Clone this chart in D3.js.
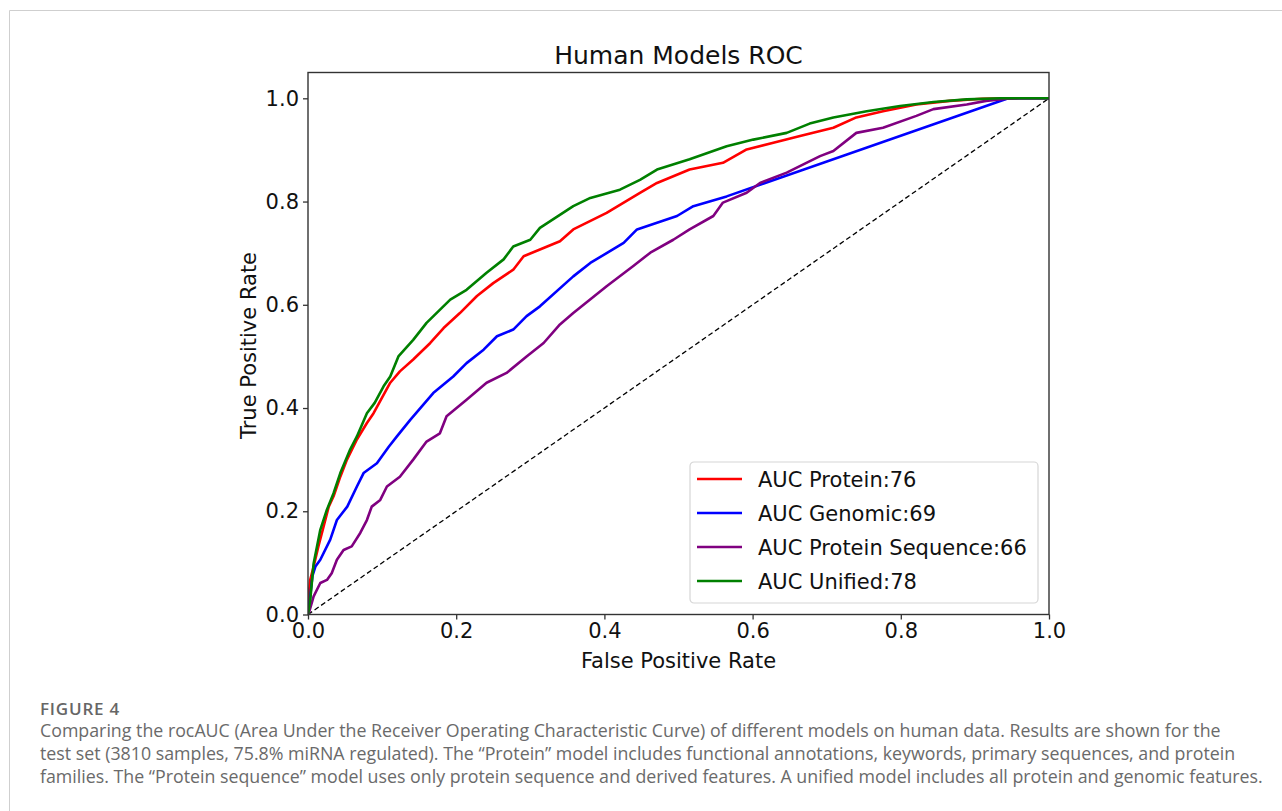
<!DOCTYPE html>
<html>
<head>
<meta charset="utf-8">
<script src="https://cdn.jsdelivr.net/npm/d3@7"></script>
<style>
  body { margin: 0; background: #fff; }
  svg { display: block; }
</style>
</head>
<body>
<script>
// ROC points: [fpr, tpr]
const proteinRoc = [[0,0],[0.001,0.04],[0.003,0.067],[0.0076,0.093],[0.014,0.132],[0.021,0.17],[0.028,0.209],[0.0345,0.229],[0.0436,0.267],[0.0526,0.3],[0.066,0.339],[0.0795,0.371],[0.0885,0.39],[0.111,0.449],[0.124,0.471],[0.142,0.494],[0.165,0.526],[0.183,0.555],[0.205,0.584],[0.228,0.617],[0.25,0.642],[0.277,0.668],[0.291,0.694],[0.313,0.707],[0.34,0.723],[0.358,0.746],[0.403,0.778],[0.448,0.817],[0.471,0.836],[0.515,0.862],[0.56,0.875],[0.592,0.901],[0.628,0.914],[0.664,0.927],[0.709,0.943],[0.74,0.963],[0.776,0.975],[0.821,0.988],[0.866,0.995],[0.91,0.999],[0.95,1],[1,1]];
const genomicRoc = [[0,0],[0.003,0.035],[0.006,0.075],[0.01,0.093],[0.0166,0.106],[0.03,0.145],[0.039,0.183],[0.053,0.209],[0.066,0.248],[0.075,0.274],[0.093,0.293],[0.109,0.325],[0.12,0.345],[0.138,0.377],[0.169,0.429],[0.196,0.461],[0.214,0.487],[0.237,0.513],[0.255,0.539],[0.277,0.552],[0.295,0.578],[0.313,0.597],[0.358,0.655],[0.381,0.681],[0.426,0.72],[0.444,0.746],[0.471,0.759],[0.498,0.772],[0.52,0.791],[0.565,0.81],[0.945,1],[1,1]];
const sequenceRoc = [[0,0],[0.001,0.002],[0.0076,0.035],[0.0166,0.061],[0.0256,0.067],[0.032,0.08],[0.039,0.106],[0.048,0.125],[0.059,0.132],[0.0705,0.158],[0.0795,0.183],[0.086,0.209],[0.0975,0.222],[0.1065,0.248],[0.124,0.267],[0.142,0.3],[0.16,0.335],[0.178,0.351],[0.187,0.384],[0.214,0.416],[0.241,0.449],[0.268,0.468],[0.295,0.5],[0.318,0.526],[0.34,0.562],[0.358,0.584],[0.403,0.636],[0.439,0.675],[0.462,0.701],[0.493,0.726],[0.515,0.746],[0.547,0.772],[0.56,0.798],[0.592,0.817],[0.61,0.836],[0.646,0.856],[0.691,0.888],[0.709,0.898],[0.74,0.933],[0.776,0.943],[0.821,0.966],[0.844,0.979],[0.889,0.988],[0.915,0.995],[0.943,0.999],[0.96,1],[1,1]];
const unifiedRoc = [[0,0],[0.003,0.028],[0.0076,0.099],[0.0166,0.164],[0.0255,0.203],[0.0345,0.235],[0.0436,0.274],[0.057,0.32],[0.066,0.345],[0.0795,0.39],[0.09,0.41],[0.102,0.442],[0.111,0.461],[0.122,0.5],[0.142,0.532],[0.16,0.565],[0.192,0.61],[0.214,0.629],[0.241,0.662],[0.264,0.688],[0.277,0.713],[0.3,0.726],[0.313,0.749],[0.358,0.791],[0.381,0.807],[0.421,0.823],[0.448,0.842],[0.471,0.862],[0.515,0.882],[0.565,0.907],[0.601,0.92],[0.646,0.933],[0.677,0.951],[0.709,0.963],[0.754,0.975],[0.799,0.985],[0.844,0.993],[0.889,0.998],[0.934,1],[1,1]];

const seriesNames = ["AUC Protein:76", "AUC Genomic:69", "AUC Protein Sequence:66", "AUC Unified:78"];
const seriesColors = ["#ff0000", "#0000ff", "#800080", "#008000"];
const seriesData = [proteinRoc, genomicRoc, sequenceRoc, unifiedRoc];
const xTicks = [0, 0.2, 0.4, 0.6, 0.8, 1.0];
const yTicks = [0, 0.2, 0.4, 0.6, 0.8, 1.0];

const captionHead = "FIGURE 4";
const captionLines = [
    "Comparing the rocAUC (Area Under the Receiver Operating Characteristic Curve) of different models on human data. Results are shown for the",
    "test set (3810 samples, 75.8% miRNA regulated). The \u201cProtein\u201d model includes functional annotations, keywords, primary sequences, and protein",
    "families. The \u201cProtein sequence\u201d model uses only protein sequence and derived features. A unified model includes all protein and genomic features."
];

const W = 1282, H = 811;
const plot = { left: 308, right: 1049, top: 72.5, bottom: 614.5 };

let svg = d3.select("body")
    .append("svg")
    .attr("width", W)
    .attr("height", H);

// card border
svg.append("path")
    .attr("d", `M9.5,${H} V10.5 H${W}`)
    .attr("fill", "none")
    .attr("stroke", "#cfcfcf")
    .attr("stroke-width", 1);

let x = d3.scaleLinear().domain([0, 1]).range([plot.left, plot.right]);
let y = d3.scaleLinear().domain([0, 1.05]).range([plot.bottom, plot.top]);

svg.append("defs").append("clipPath")
    .attr("id", "plotclip")
    .append("rect")
    .attr("x", plot.left)
    .attr("y", plot.top)
    .attr("width", plot.right - plot.left)
    .attr("height", plot.bottom - plot.top);

let lines = svg.append("g").attr("clip-path", "url(#plotclip)");

// chance diagonal
lines.append("line")
    .attr("x1", x(0)).attr("y1", y(0))
    .attr("x2", x(1)).attr("y2", y(1))
    .attr("stroke", "#000")
    .attr("stroke-width", 1.3)
    .attr("stroke-dasharray", "5,3");

let line = d3.line()
    .x(d => x(d[0]))
    .y(d => y(d[1]));

lines.selectAll("path.roc")
    .data(seriesData)
    .enter()
    .append("path")
    .attr("class", "roc")
    .attr("d", line)
    .attr("fill", "none")
    .attr("stroke", (d, i) => seriesColors[i])
    .attr("stroke-width", 2.6)
    .attr("stroke-linejoin", "round");

// axes
let fmt = d3.format(".1f");
let xAxis = svg.append("g")
    .attr("transform", `translate(0,${plot.bottom})`)
    .call(d3.axisBottom(x).tickValues(xTicks).tickFormat(fmt).tickSize(5).tickPadding(4));
let yAxis = svg.append("g")
    .attr("transform", `translate(${plot.left},0)`)
    .call(d3.axisLeft(y).tickValues(yTicks).tickFormat(fmt).tickSize(5).tickPadding(4));

[xAxis, yAxis].forEach(a => {
    a.select(".domain").remove();
    a.selectAll(".tick line").attr("stroke", "#333").attr("stroke-width", 1.3);
    a.selectAll(".tick text")
        .attr("fill", "#111")
        .style("font-family", "DejaVu Sans")
        .style("font-size", "21px");
});

// frame
svg.append("rect")
    .attr("x", plot.left)
    .attr("y", plot.top)
    .attr("width", plot.right - plot.left)
    .attr("height", plot.bottom - plot.top)
    .attr("fill", "none")
    .attr("stroke", "#333")
    .attr("stroke-width", 1.4);

// title and labels
svg.append("text")
    .attr("x", (plot.left + plot.right) / 2)
    .attr("y", 64)
    .attr("text-anchor", "middle")
    .attr("fill", "#111")
    .style("font-family", "DejaVu Sans")
    .style("font-size", "25px")
    .text("Human Models ROC");

svg.append("text")
    .attr("x", (plot.left + plot.right) / 2)
    .attr("y", 668)
    .attr("text-anchor", "middle")
    .attr("fill", "#111")
    .style("font-family", "DejaVu Sans")
    .style("font-size", "21px")
    .text("False Positive Rate");

svg.append("text")
    .attr("transform", `translate(256,${(plot.top + plot.bottom) / 2 + 2}) rotate(-90)`)
    .attr("text-anchor", "middle")
    .attr("fill", "#111")
    .style("font-family", "DejaVu Sans")
    .style("font-size", "21px")
    .text("True Positive Rate");

// legend
let legend = svg.append("g").attr("transform", "translate(690,462)");
legend.append("rect")
    .attr("width", 348)
    .attr("height", 141)
    .attr("rx", 4)
    .attr("fill", "#fff")
    .attr("fill-opacity", 0.85)
    .attr("stroke", "#d6d6d6")
    .attr("stroke-width", 1.2);

let items = legend.selectAll("g.item")
    .data(seriesNames)
    .enter()
    .append("g")
    .attr("class", "item")
    .attr("transform", (d, i) => `translate(0,${17 + i * 34})`);

items.append("line")
    .attr("x1", 7).attr("x2", 52)
    .attr("stroke", (d, i) => seriesColors[i])
    .attr("stroke-width", 2.6);

items.append("text")
    .attr("x", 68)
    .attr("dy", "0.36em")
    .attr("fill", "#111")
    .style("font-family", "DejaVu Sans")
    .style("font-size", "21px")
    .text(d => d);

// caption
svg.append("text")
    .attr("x", 40)
    .attr("y", 715)
    .attr("fill", "#666")
    .style("font-family", "Open Sans")
    .style("font-size", "17px")
    .style("font-weight", 600)
    .style("letter-spacing", "0.8px")
    .text(captionHead);

svg.selectAll("text.caption")
    .data(captionLines)
    .enter()
    .append("text")
    .attr("class", "caption")
    .attr("x", 40)
    .attr("y", (d, i) => 737 + i * 23)
    .attr("fill", "#6a6a6a")
    .style("font-family", "Open Sans")
    .style("font-size", "17.8px")
    .text(d => d);
</script>
</body>
</html>
